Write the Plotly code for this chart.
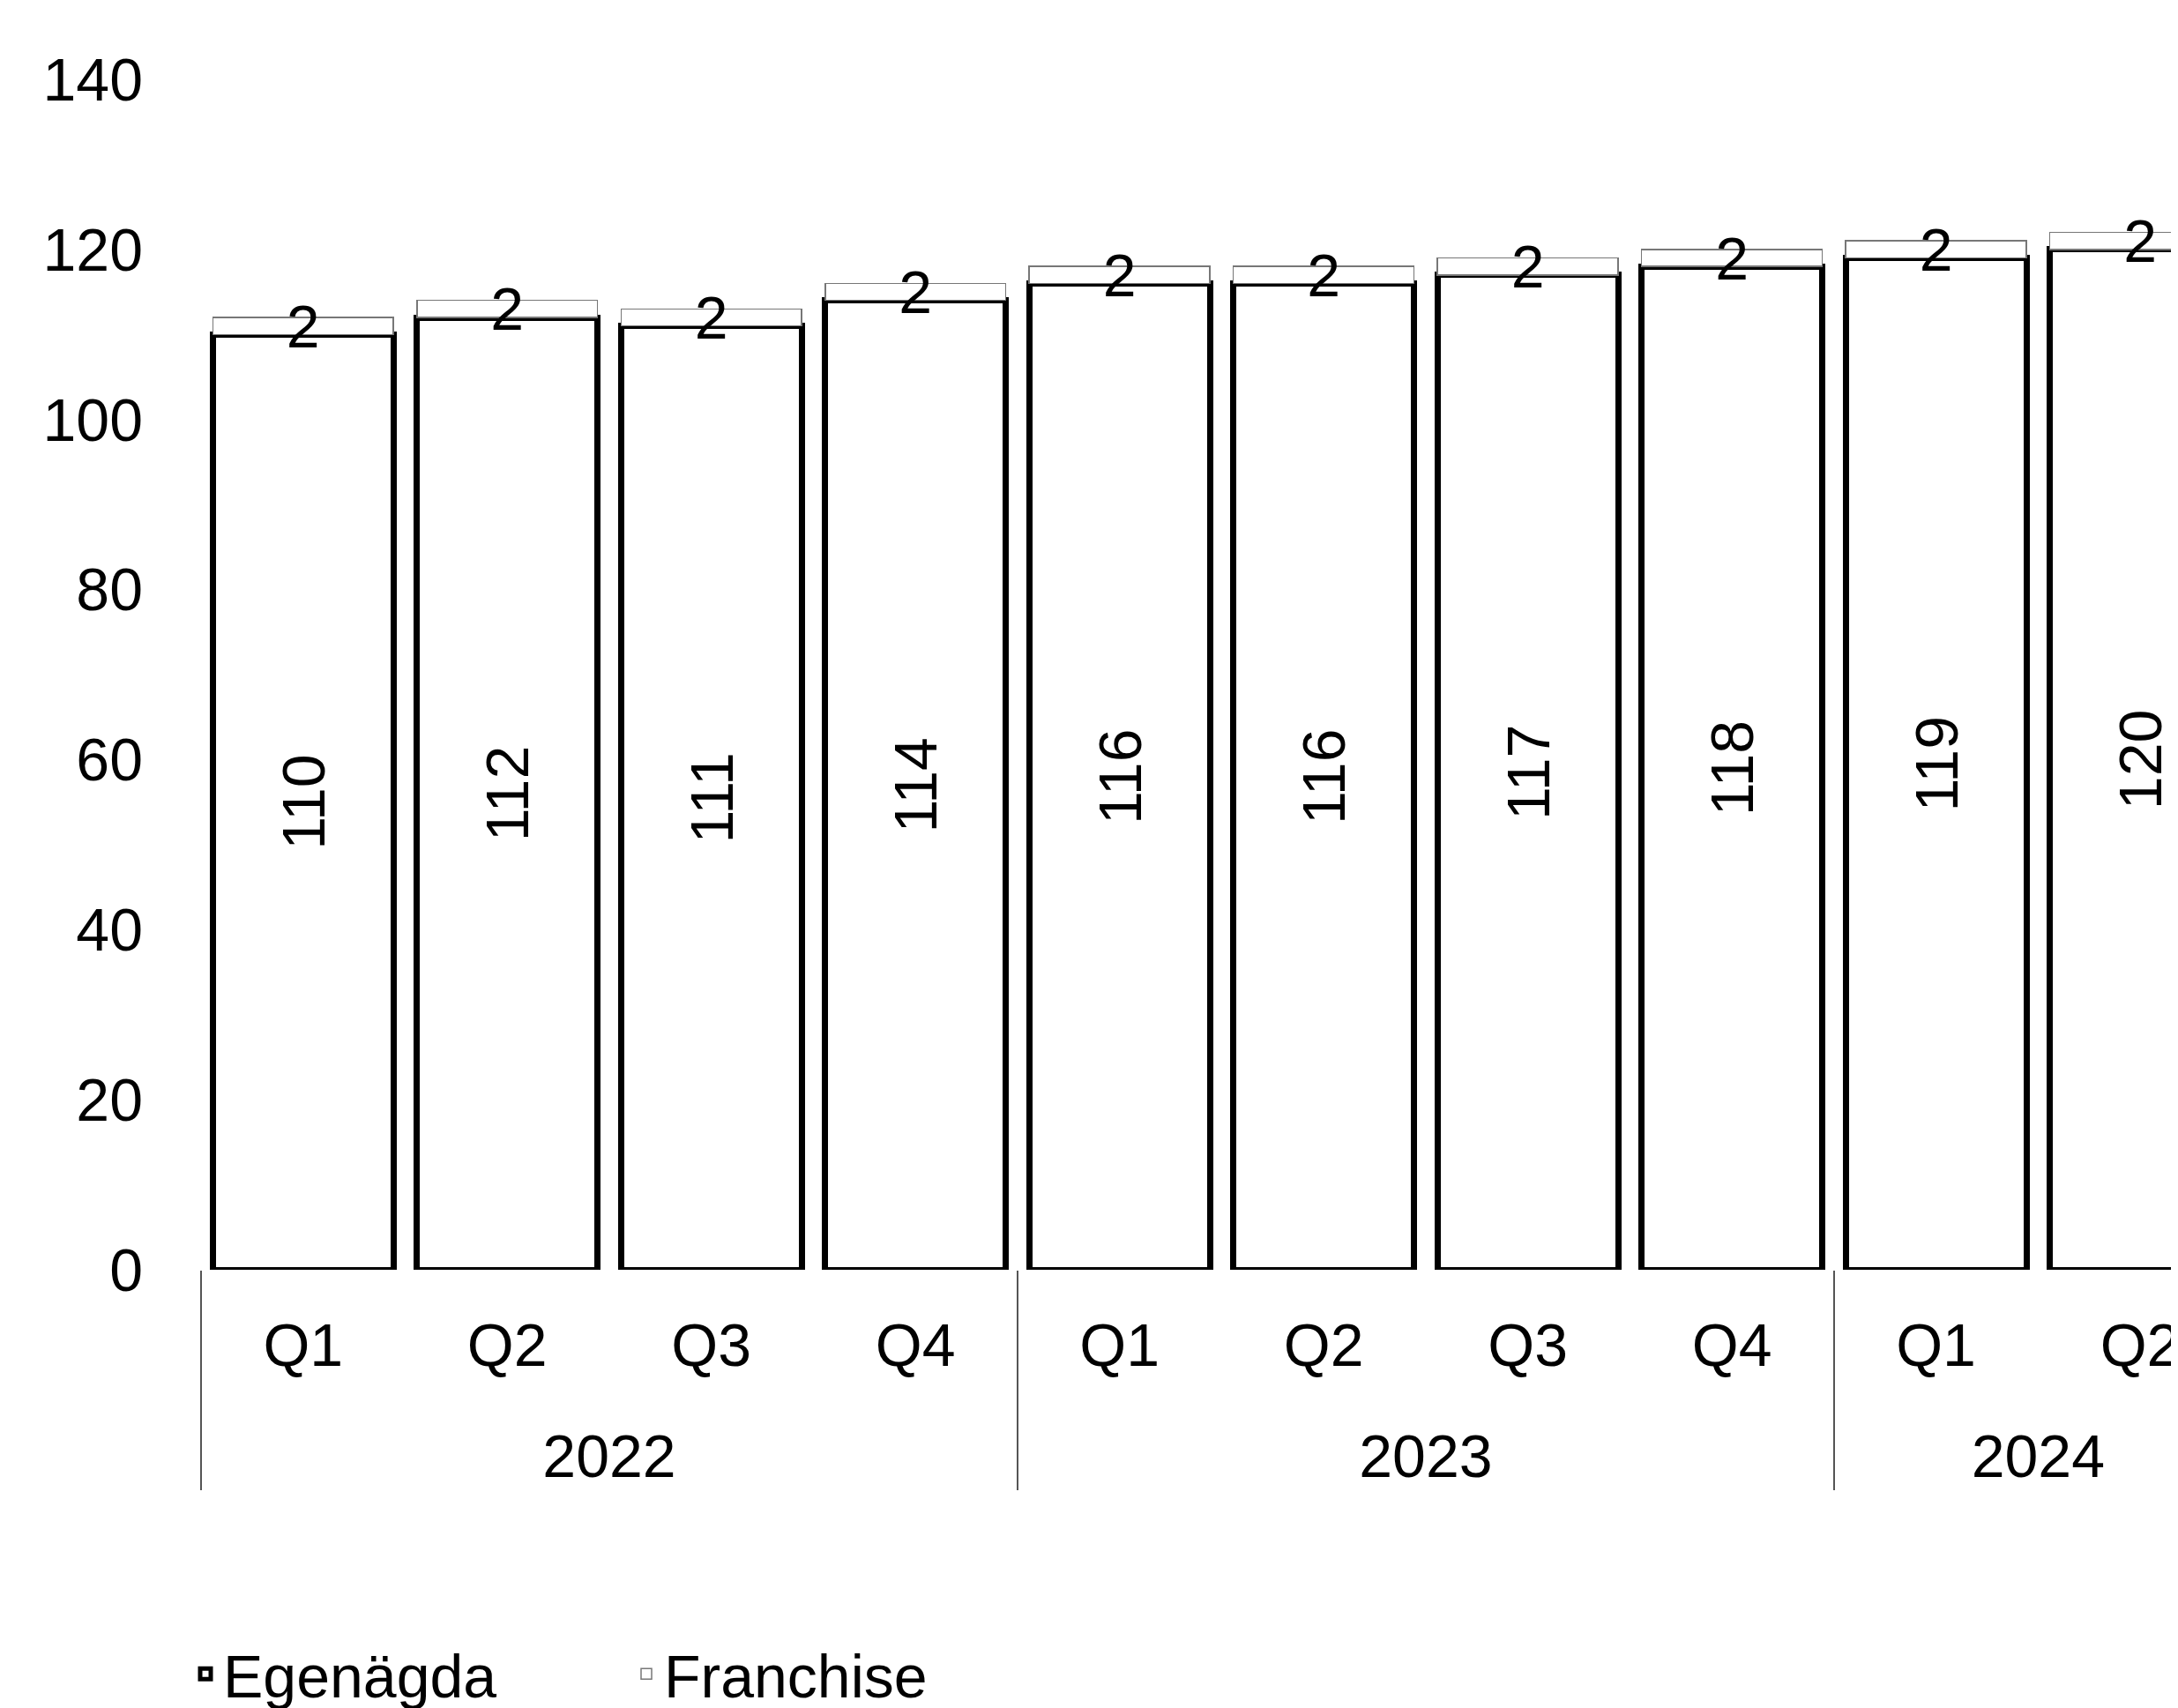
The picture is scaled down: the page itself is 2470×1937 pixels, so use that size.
import plotly.graph_objects as go

years = ["2022"] * 4 + ["2023"] * 4 + ["2024"] * 2
quarters = ["Q1", "Q2", "Q3", "Q4", "Q1", "Q2", "Q3", "Q4", "Q1", "Q2"]
egenagda = [110, 112, 111, 114, 116, 116, 117, 118, 119, 120]
franchise = [2, 2, 2, 2, 2, 2, 2, 2, 2, 2]
y_ticks = [0, 20, 40, 60, 80, 100, 120, 140]

FONT = "Liberation Sans, Arial, sans-serif"
FS = 68

# year labels pushed one line further down, as in the reference
year_labels = ["<br>" + y for y in years]

fig = go.Figure()
fig.add_trace(go.Bar(
    x=[year_labels, quarters], y=egenagda, name="Egenägda",
    marker=dict(color="white", line=dict(color="black", width=7)),
    text=[str(v) for v in egenagda], textposition="inside",
    insidetextanchor="middle", textangle=-90, constraintext="none",
    insidetextfont=dict(family=FONT, size=FS, color="black"),
))
fig.add_trace(go.Bar(
    x=[year_labels, quarters], y=franchise, name="Franchise",
    marker=dict(color="white", line=dict(color="#777777", width=1.5)),
    text=[str(v) for v in franchise], textposition="inside",
    insidetextanchor="middle", textangle=0, constraintext="none",
    insidetextfont=dict(family=FONT, size=FS, color="black"),
))

fig.update_layout(
    barmode="stack", bargap=0.115,
    width=2470, height=1937,
    margin=dict(l=220, r=0, t=82, b=505),
    paper_bgcolor="white", plot_bgcolor="white",
    font=dict(family=FONT, size=FS, color="black"),
    showlegend=True,
    legend=dict(orientation="h", xref="container", yref="container",
                x=0.083, y=0.024, xanchor="left", yanchor="middle",
                font=dict(family=FONT, size=FS, color="black"),
                entrywidth=455, traceorder="normal"),
    xaxis=dict(type="multicategory", range=[-0.5, 9.22],
               showgrid=False, zeroline=False, showline=False, ticks="",
               showdividers=True, dividercolor="#555555", dividerwidth=2,
               ticklabelstandoff=40,
               tickfont=dict(family=FONT, size=FS, color="black")),
    yaxis=dict(range=[0, 140], tickvals=y_ticks, showgrid=False,
               zeroline=False, showline=False, ticks="",
               ticklabelstandoff=65,
               tickfont=dict(family=FONT, size=FS, color="black")),
)

fig.write_html("out.html")
